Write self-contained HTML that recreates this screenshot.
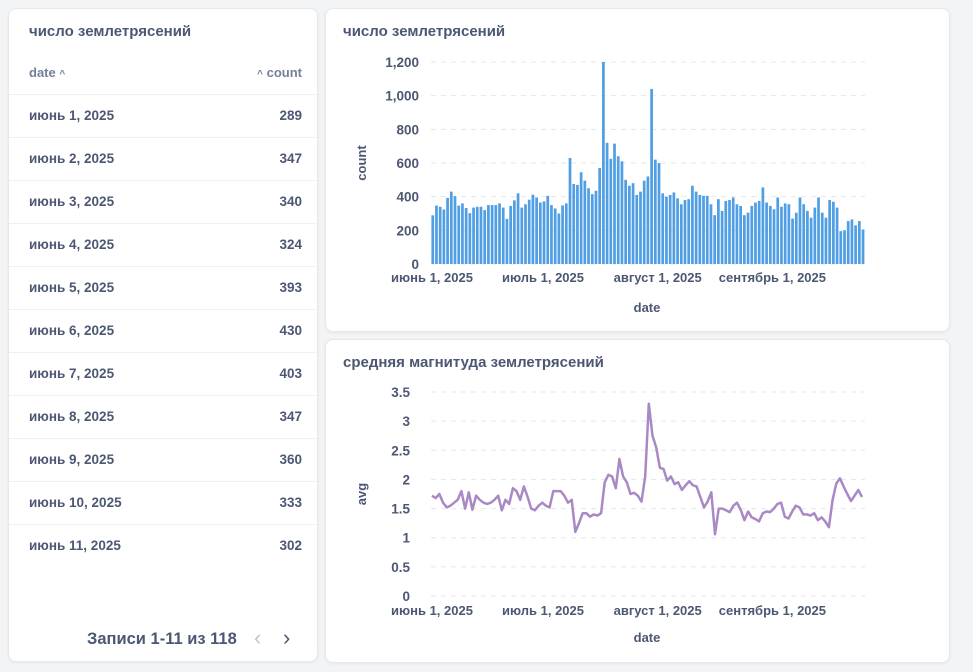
<!DOCTYPE html>
<html><head><meta charset="utf-8">
<style>
body{margin:0;width:973px;height:672px;background:#f3f4f6;font-family:"Liberation Sans","Noto Sans CJK SC",sans-serif;color:#4c5773;overflow:hidden;position:relative}
.card{position:absolute;background:#fff;border:1px solid #e6e8ec;border-radius:8px;box-shadow:0 1px 3px rgba(0,0,0,0.06)}
.title{position:absolute;font-weight:bold;font-size:15px;color:#4c5773}
.row{position:absolute;left:0;width:308px;height:43px;border-top:1px solid #eef0f3;font-weight:bold;font-size:13.5px}
.row span{position:absolute;top:13px}
svg text{font-family:"Liberation Sans",sans-serif}
</style></head><body>
<div class="card" style="left:8px;top:8px;width:308px;height:652px">
 <div class="title" style="left:20px;top:14px">число землетрясений</div>
 <div style="position:absolute;left:20px;top:56px;font-size:13px;color:#74809a;font-weight:bold">date <span style="font-size:10px">^</span></div>
 <div style="position:absolute;right:15px;top:56px;font-size:13px;color:#74809a;font-weight:bold"><span style="font-size:10px">^</span> count</div>
 <div id="rows"></div>
 <div style="position:absolute;left:78px;top:621px;font-size:16.5px;font-weight:bold">Записи 1-11 из 118</div>
 <div style="position:absolute;left:245px;top:616px;font-size:22px;color:#c0c5d0">&#8249;</div>
 <div style="position:absolute;left:274px;top:616px;font-size:22px;color:#4c5773">&#8250;</div>
</div>
<div class="card" style="left:325px;top:8px;width:623px;height:322px">
 <div class="title" style="left:17px;top:14px">число землетрясений</div>
</div>
<div class="card" style="left:325px;top:339px;width:623px;height:322px">
 <div class="title" style="left:17px;top:14px">средняя магнитуда землетрясений</div>
</div>
<svg id="bar" width="973" height="672" style="position:absolute;left:0;top:0"></svg>
<script>
const tableDates=["июнь 1, 2025","июнь 2, 2025","июнь 3, 2025","июнь 4, 2025","июнь 5, 2025","июнь 6, 2025","июнь 7, 2025","июнь 8, 2025","июнь 9, 2025","июнь 10, 2025","июнь 11, 2025"];
const counts=[289,347,340,324,393,430,403,347,360,333,302,335,340,340,320,350,350,350,360,335,268,345,378,420,335,355,382,412,395,365,
372,405,350,330,300,348,360,630,475,470,545,495,450,415,435,570,1200,720,625,715,640,610,500,465,480,410,430,495,520,1040,620,
600,420,400,410,425,390,355,380,385,465,430,410,405,405,355,290,385,315,375,380,395,355,345,290,305,345,365,375,455,365,345,325,395,340,360,355,270,305,395,355,315,275,335,395,305,275,380,370,335,195,200,255,265,230,255,205];
const mags=[1.72,1.68,1.75,1.6,1.52,1.55,1.6,1.65,1.8,1.5,1.78,1.48,1.72,1.65,1.6,1.58,1.6,1.65,1.72,1.47,1.65,1.58,1.85,1.8,1.65,1.88,1.7,1.5,1.47,1.55,
1.6,1.55,1.52,1.8,1.8,1.8,1.72,1.6,1.65,1.1,1.25,1.42,1.42,1.36,1.4,1.38,1.42,1.95,2.08,2.05,1.85,2.35,2.05,1.95,1.75,1.77,1.72,1.62,2.05,3.3,2.75,
2.55,2.2,2.18,1.98,2.05,1.92,1.95,1.82,1.9,1.97,1.9,1.88,1.7,1.52,1.62,1.78,1.06,1.5,1.5,1.47,1.44,1.55,1.6,1.48,1.3,1.45,1.35,1.32,1.28,1.42,1.45,
1.44,1.5,1.58,1.6,1.36,1.33,1.45,1.55,1.52,1.4,1.4,1.38,1.42,1.3,1.35,1.28,1.18,1.65,1.93,2.02,1.88,1.75,1.63,1.72,1.82,1.7];
const barTicks=[0,200,400,600,800,1000,1200];
const barTickLabels=["0","200","400","600","800","1,000","1,200"];
const magTicks=[0,0.5,1,1.5,2,2.5,3,3.5];
const xTickIdx=[0,30,61,92];
const xTickLabels=["июнь 1, 2025","июль 1, 2025","август 1, 2025","сентябрь 1, 2025"];

const rowsEl=document.getElementById('rows');
tableDates.forEach((d,i)=>{
 const r=document.createElement('div');r.className='row';r.style.top=(85+i*43)+'px';
 
 
 r.innerHTML='<span style="left:20px">'+d+'</span><span style="right:15px">'+counts[i]+'</span>';
 rowsEl.appendChild(r);
});
const NS='http://www.w3.org/2000/svg';const svg=document.getElementById('bar');
function el(t,a,txt){const e=document.createElementNS(NS,t);for(const k in a)e.setAttribute(k,a[k]);if(txt!==undefined)e.textContent=txt;svg.appendChild(e);return e;}
const X0=431,X1=865;
const step=(X1-X0)/counts.length;
const xb=i=>X0+i*step;
const yb=v=>264-v/1200*202;
barTicks.forEach((t,i)=>{
 const g=el('line',{x1:X0,x2:X1,y1:yb(t),y2:yb(t),stroke:'#e4e7ec','stroke-dasharray':'5,5'});
 
 const l=el('text',{x:419,y:yb(t)+5,'text-anchor':'end','font-size':13.5,'font-weight':'bold',fill:'#4c5773'},barTickLabels[i]);
 
});
counts.forEach((v,i)=>{
 const r=el('rect',{x:xb(i)+0.4,y:yb(v),width:step-1,height:264-yb(v),fill:'#509ee3'});
 
});
const xm=i=>432+i*(862-432)/(mags.length-1);
const ym=v=>596-v/3.5*204;
magTicks.forEach(t=>{
 const g=el('line',{x1:X0,x2:X1,y1:ym(t),y2:ym(t),stroke:'#e4e7ec','stroke-dasharray':'5,5'});
 
 const l=el('text',{x:410,y:ym(t)+5,'text-anchor':'end','font-size':13.5,'font-weight':'bold',fill:'#4c5773'},String(t));
 
});
const p=el('path',{d:mags.map((v,i)=>(i?'L':'M')+xm(i).toFixed(1)+','+ym(v).toFixed(1)).join(''),fill:'none',stroke:'#a989c5','stroke-width':2.5,'stroke-linejoin':'round'});

xTickIdx.forEach((d,i)=>{
 const a=el('text',{x:432+d*3.7,y:282,'text-anchor':'middle','font-size':13,'font-weight':'bold',fill:'#4c5773'},xTickLabels[i]);
 
 const b=el('text',{x:432+d*3.7,y:615,'text-anchor':'middle','font-size':13,'font-weight':'bold',fill:'#4c5773'},xTickLabels[i]);
 
});
let t;
t=el('text',{x:647,y:312,'text-anchor':'middle','font-size':13,'font-weight':'bold',fill:'#4c5773'},'date');
t=el('text',{x:647,y:642,'text-anchor':'middle','font-size':13,'font-weight':'bold',fill:'#4c5773'},'date');
t=el('text',{x:366,y:163,'text-anchor':'middle','font-size':13,'font-weight':'bold',fill:'#4c5773',transform:'rotate(-90 366 163)'},'count');
t=el('text',{x:366,y:494,'text-anchor':'middle','font-size':13,'font-weight':'bold',fill:'#4c5773',transform:'rotate(-90 366 494)'},'avg');
</script>
</body></html>
